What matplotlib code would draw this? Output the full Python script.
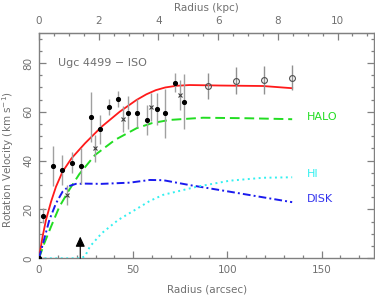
import matplotlib
matplotlib.use("Agg")
import matplotlib.pyplot as plt
from matplotlib.ticker import MultipleLocator, FixedLocator

# observed rotation curve: filled dots, crosses, open circles (arcsec, km/s)
dot_r = [0, 2.3, 7.6, 12.4, 17.3, 22.3, 27.4, 32.3, 37.3, 42.2, 47.2, 52.1, 57.4, 62.4, 67.1, 72.1, 77.0]
dot_v = [0, 17.5, 37.8, 36.2, 39.2, 37.8, 57.8, 52.9, 61.9, 65.2, 59.7, 59.4, 56.7, 61.2, 59.4, 72.0, 64.2]
dot_e = [0, 3.0, 8.3, 6.0, 4.2, 7.5, 10.3, 6.0, 3.2, 3.4, 6.8, 5.8, 6.1, 6.5, 9.9, 3.8, 11.3]

cross_r = [14.7, 29.7, 44.7, 59.7, 74.7]
cross_v = [26.0, 45.0, 57.0, 61.9, 66.9]
cross_e = [4.0, 5.5, 5.3, 5.8, 6.1]

circ_r = [89.7, 104.4, 119.4, 134.4]
circ_v = [70.6, 72.8, 73.2, 74.0]
circ_e = [5.5, 5.5, 5.7, 5.2]

# model curves
fit_r = [0, 1.9, 3.7, 6.4, 9, 12.5, 17.3, 24.4, 33.2, 42.9, 51.8, 57, 62, 67, 73, 80, 95.9, 118.9, 134.4]
fit_v = [0, 8.9, 15.7, 23.2, 29.3, 35.5, 41.0, 47.1, 53.9, 60.1, 64.9, 67.2, 68.9, 70.0, 70.7, 71.0, 70.8, 70.6, 69.7]

halo_r = [0, 2.8, 6.4, 10.8, 16, 21.4, 29.7, 40.3, 51.8, 60, 69.4, 87.1, 110, 134.4]
halo_v = [0, 6.1, 13.0, 21.1, 28.0, 34.5, 42.3, 48.5, 53.3, 55.4, 56.7, 57.6, 57.4, 57.0]

disk_r = [0, 5.5, 9, 12.5, 16, 19.6, 24.4, 33.2, 48.2, 58.8, 66, 80, 101.2, 118.9, 134.4]
disk_v = [0, 15.7, 22.5, 27.3, 29.6, 30.5, 30.6, 30.5, 31.0, 32.1, 32.0, 30.0, 27.3, 25.0, 23.0]

hi_r = [0, 22, 24.4, 27, 33.2, 42, 50.9, 58.8, 65.9, 83.6, 101.2, 118.9, 134.4]
hi_v = [0, 0, 0.8, 4.8, 10.2, 15.7, 19.8, 23.5, 26.0, 29.3, 31.8, 33.0, 33.2]

kpc_ticks = [0, 2, 4, 6, 8, 10]
arrow_r = 21.9
arcsec_per_kpc = 15.85

gray = "#808080"
txt = "#707070"

fig = plt.figure(figsize=(3.75, 3.0), dpi=100)
ax = fig.add_axes([39 / 375, 1 - 258.3 / 300, 335.3 / 375, 225 / 300])

ax.errorbar(dot_r, dot_v, yerr=dot_e, fmt="o", ms=2.7, color="black",
            ecolor="#a0a0a0", elinewidth=1, capsize=0, zorder=4)
ax.errorbar(cross_r, cross_v, yerr=cross_e, fmt="x", ms=3.2, mew=0.8, color="#404040",
            ecolor="#a0a0a0", elinewidth=1, capsize=0, zorder=4)
ax.errorbar(circ_r, circ_v, yerr=circ_e, fmt="o", ms=4.2, mfc="none", mec="#505050", mew=0.8,
            ecolor="#909090", elinewidth=1, capsize=0, zorder=4)

ax.plot(fit_r, fit_v, color="#ff1a1a", lw=1.3, zorder=3)
ax.plot(halo_r, halo_v, color="#22dd22", lw=1.4, dashes=(5, 2.5), zorder=3)
ax.plot(disk_r, disk_v, color="#1a1aee", lw=1.4, dashes=(4, 1.6, 1, 1.6), zorder=3)
ax.plot(hi_r, hi_v, color="#33f0f0", lw=1.4, dashes=(1, 1.8), zorder=3)

ax.annotate("", xy=(arrow_r, 8.9), xytext=(arrow_r, 0),
            arrowprops=dict(arrowstyle="-|>,head_length=0.6,head_width=0.28",
                            color="black", lw=0.8, mutation_scale=10,
                            shrinkA=0, shrinkB=0))

ax.text(10, 80, "Ugc 4499 \u2212 ISO", color=txt, fontsize=8, va="center")
ax.text(142, 58, "HALO", color="#22dd22", fontsize=8, va="center")
ax.text(142, 34.5, "HI", color="#33f0f0", fontsize=8, va="center")
ax.text(142, 24.3, "DISK", color="#3333ee", fontsize=8, va="center")

ax.set_xlim(0, 178)
ax.set_ylim(0, 92.2)
ax.xaxis.set_major_locator(MultipleLocator(50))
ax.xaxis.set_minor_locator(MultipleLocator(10))
ax.yaxis.set_major_locator(MultipleLocator(20))
ax.yaxis.set_minor_locator(MultipleLocator(5))

for s in ax.spines.values():
    s.set_color(gray)
    s.set_linewidth(1)

ax.tick_params(which="both", direction="in", color=gray, labelcolor=txt,
               labelsize=7.5, right=True, top=False, width=0.9)
ax.tick_params(which="major", length=5)
ax.tick_params(which="minor", length=2.5)
ax.tick_params(axis="y", labelrotation=90, pad=4)
ax.tick_params(axis="x", pad=5)
for lab in ax.get_yticklabels():
    lab.set_va("center")

sec = ax.secondary_xaxis("top", functions=(lambda x: x / arcsec_per_kpc,
                                           lambda k: k * arcsec_per_kpc))
sec.xaxis.set_major_locator(FixedLocator(kpc_ticks))
sec.xaxis.set_minor_locator(MultipleLocator(0.5))
sec.tick_params(which="both", direction="in", color=gray, labelcolor=txt,
                labelsize=7.5, width=0.9, pad=5)
sec.tick_params(which="major", length=5)
sec.tick_params(which="minor", length=2.5)
sec.spines["top"].set_color(gray)
sec.set_xlabel("Radius (kpc)", color=txt, fontsize=7.5, labelpad=4)

ax.set_xlabel("Radius (arcsec)", color=txt, fontsize=7.5, labelpad=7)
fig.text(8.5 / 375, 1 - 159 / 300, "Rotation Velocity (km s$^{-1}$)", color=txt,
         fontsize=7.5, rotation=90, ha="center", va="center")

fig.savefig("out.png", dpi=100)
